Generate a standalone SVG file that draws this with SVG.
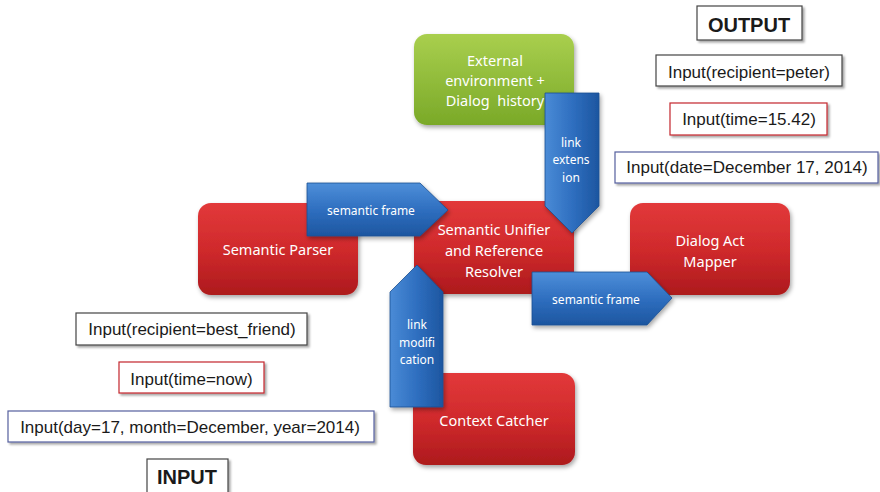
<svg xmlns="http://www.w3.org/2000/svg" width="880" height="492" viewBox="0 0 880 492">
<defs>
<linearGradient id="gRed" x1="0" y1="0" x2="0" y2="1">
<stop offset="0" stop-color="#e2393a"/>
<stop offset="0.5" stop-color="#d02a2c"/>
<stop offset="1" stop-color="#ad1a1d"/>
</linearGradient>
<linearGradient id="gGreen" x1="0" y1="0" x2="0" y2="1">
<stop offset="0" stop-color="#a9cf4e"/>
<stop offset="1" stop-color="#7aa928"/>
</linearGradient>
<linearGradient id="gBlueH" x1="0" y1="0" x2="0" y2="1">
<stop offset="0" stop-color="#4e8fd9"/>
<stop offset="0.5" stop-color="#2f6fc0"/>
<stop offset="1" stop-color="#1d56a0"/>
</linearGradient>
<linearGradient id="gBlueV" x1="0" y1="0" x2="1" y2="0">
<stop offset="0" stop-color="#4a8bd6"/>
<stop offset="0.5" stop-color="#2f6fc0"/>
<stop offset="1" stop-color="#1d56a0"/>
</linearGradient>
<filter id="sh" x="-10%" y="-10%" width="125%" height="130%">
<feDropShadow dx="1.5" dy="2.5" stdDeviation="2" flood-color="#000" flood-opacity="0.35"/>
</filter>
<filter id="shb" x="-10%" y="-20%" width="125%" height="150%">
<feDropShadow dx="2" dy="2" stdDeviation="1.2" flood-color="#000" flood-opacity="0.35"/>
</filter>
<style>
.node rect{filter:url(#sh)}
.red{fill:url(#gRed)}
.green{fill:url(#gGreen)}
.nt{font-family:"Noto Sans","Open Sans",sans-serif;font-size:14.5px;fill:#fff;text-anchor:middle}
.at{font-family:"Noto Sans","Open Sans",sans-serif;font-size:12px;fill:#fff;text-anchor:middle}
.arrH{fill:url(#gBlueH);stroke:#1b4f92;stroke-width:0.8;filter:url(#sh)}
.arrV{fill:url(#gBlueV);stroke:#1b4f92;stroke-width:0.8;filter:url(#sh)}
.box{fill:#fff;stroke-width:1.2;filter:url(#shb)}
.bk{stroke:#444}
.rd{stroke:#c4262e}
.bl{stroke:#55609e}
.bt{font-family:"Liberation Sans",Arial,sans-serif;font-size:17px;fill:#1a1a1a;text-anchor:middle}
.tt{font-family:"Liberation Sans",Arial,sans-serif;font-size:20px;font-weight:bold;fill:#1a1a1a;text-anchor:middle}
</style>
</defs>
<rect width="880" height="492" fill="#fff"/>

<g id="external-environment" class="node">
<rect x="414" y="34" width="160" height="91" rx="13" class="green"/>
<text class="nt"><tspan x="495" y="66">External</tspan><tspan x="495" y="86">environment +</tspan><tspan x="495" y="106">Dialog&#160; history</tspan></text>
</g>
<g id="semantic-parser" class="node">
<rect x="198" y="203" width="160" height="92" rx="13" class="red"/>
<text class="nt" x="278" y="255">Semantic Parser</text>
</g>
<g id="semantic-unifier" class="node">
<rect x="414" y="201" width="160" height="93" rx="13" class="red"/>
<text class="nt"><tspan x="494" y="235">Semantic Unifier</tspan><tspan x="494" y="256">and Reference</tspan><tspan x="494" y="277">Resolver</tspan></text>
</g>
<g id="dialog-act-mapper" class="node">
<rect x="630" y="203" width="160" height="92" rx="13" class="red"/>
<text class="nt"><tspan x="710" y="246">Dialog Act</tspan><tspan x="710" y="267">Mapper</tspan></text>
</g>
<g id="context-catcher" class="node">
<rect x="413" y="373" width="162" height="92" rx="13" class="red"/>
<text class="nt" x="494" y="426">Context Catcher</text>
</g>

<g id="connectors">
<g id="arrow-semantic-frame-1">
<polygon class="arrH" points="307,183 420,183 448,210 420,236 307,236"/>
<text class="at" x="371" y="215">semantic frame</text>
</g>
<g id="arrow-link-extension">
<polygon class="arrV" points="545,93 599,93 599,206 572,233 545,206"/>
<text class="at"><tspan x="571" y="147">link</tspan><tspan x="571" y="164">extens</tspan><tspan x="571" y="182">ion</tspan></text>
</g>
<g id="arrow-semantic-frame-2">
<polygon class="arrH" points="532,272 647,272 672,298 647,325 532,325"/>
<text class="at" x="596" y="304">semantic frame</text>
</g>
<g id="arrow-link-modification">
<polygon class="arrV" points="390,407 443,407 443,292 417,265 390,292"/>
<text class="at"><tspan x="417" y="329">link</tspan><tspan x="417" y="347">modifi</tspan><tspan x="417" y="364">cation</tspan></text>
</g>
</g>

<g id="output-label">
<rect class="box bk" x="697" y="6" width="105" height="34"/>
<text class="tt" x="749" y="32">OUTPUT</text>
</g>
<g id="out-recipient">
<rect class="box bk" x="656" y="55" width="186" height="31"/>
<text class="bt" x="749" y="78">Input(recipient=peter)</text>
</g>
<g id="out-time">
<rect class="box rd" x="670" y="103" width="157" height="32"/>
<text class="bt" x="749" y="125">Input(time=15.42)</text>
</g>
<g id="out-date">
<rect class="box bl" x="615" y="152" width="263" height="31"/>
<text class="bt" x="747" y="173">Input(date=December 17, 2014)</text>
</g>

<g id="in-recipient">
<rect class="box bk" x="76" y="313" width="231" height="32"/>
<text class="bt" x="192" y="335">Input(recipient=best_friend)</text>
</g>
<g id="in-time">
<rect class="box rd" x="119" y="362" width="145" height="31"/>
<text class="bt" x="191.5" y="385">Input(time=now)</text>
</g>
<g id="in-date">
<rect class="box bl" x="8" y="411" width="366" height="31"/>
<text class="bt" x="190" y="433">Input(day=17, month=December, year=2014)</text>
</g>
<g id="input-label">
<rect class="box bk" x="147" y="459" width="81" height="40"/>
<text class="tt" x="187" y="484">INPUT</text>
</g>
</svg>
